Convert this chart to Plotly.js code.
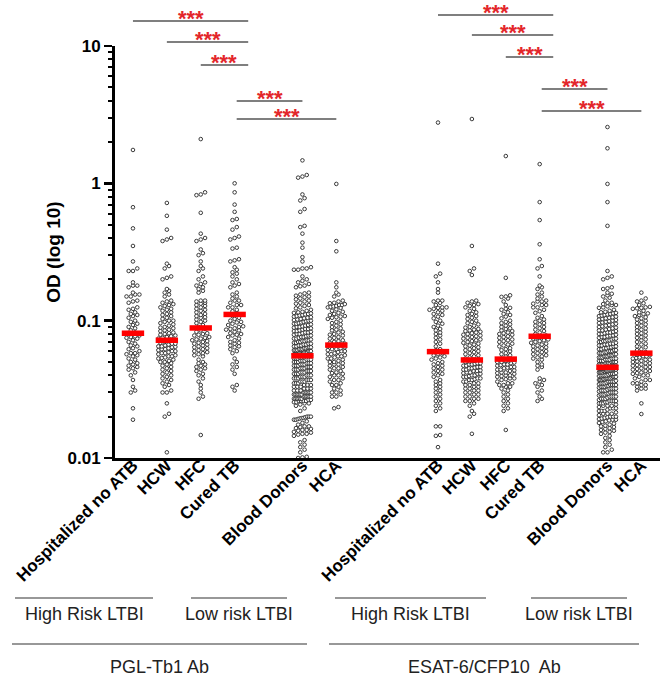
<!DOCTYPE html>
<html>
<head>
<meta charset="utf-8">
<script src="https://cdn.plot.ly/plotly-3.0.1.min.js"></script>
<style>
  body { margin: 0; background: #fff; }
  #chart { width: 667px; height: 679px; }
</style>
</head>
<body>
<div id="chart"></div>
<script>
var groups = ['Hospitalized no ATB', 'HCW', 'HFC', 'Cured TB', 'Blood Donors', 'HCA'];
var panels = ['PGL-Tb1 Ab', 'ESAT-6/CFP10  Ab'];
var subsets = ['High Risk LTBI', 'Low risk LTBI'];

// OD values (PGL-Tb1 Ab)
var pglHosp = [1.75, 0.67, 0.47, 0.35, 0.27, 0.24, 0.23, 0.23, 0.19, 0.18, 0.18, 0.175, 0.16, 0.155, 0.155, 0.15, 0.15, 0.14, 0.138, 0.135,
  0.125, 0.122, 0.12, 0.115, 0.112, 0.11, 0.108, 0.105, 0.1, 0.098, 0.095, 0.093, 0.09, 0.088, 0.085, 0.082, 0.08, 0.078, 0.077, 0.076,
  0.075, 0.074, 0.072, 0.07, 0.068, 0.066, 0.065, 0.063, 0.062, 0.06, 0.058, 0.058, 0.057, 0.056, 0.055, 0.053, 0.052, 0.05, 0.049, 0.048,
  0.047, 0.046, 0.045, 0.044, 0.042, 0.04, 0.037, 0.033, 0.031, 0.030, 0.023, 0.019];
var pglHcw = [0.72, 0.58, 0.46, 0.40, 0.39, 0.38, 0.26, 0.25, 0.24, 0.21, 0.205, 0.20, 0.17, 0.165, 0.16, 0.155, 0.15, 0.13, 0.125, 0.122,
  0.14, 0.138, 0.135, 0.132, 0.128, 0.12, 0.118, 0.115, 0.112, 0.11, 0.108, 0.105, 0.103, 0.1, 0.1,
  0.098, 0.096, 0.094, 0.092, 0.09, 0.089, 0.088, 0.086, 0.085, 0.084, 0.082, 0.081, 0.08, 0.079, 0.078, 0.077, 0.076, 0.075, 0.074, 0.073,
  0.071, 0.07, 0.069, 0.068, 0.068, 0.067, 0.066, 0.065, 0.065, 0.0645, 0.064, 0.063, 0.062, 0.062, 0.061, 0.06, 0.06, 0.059, 0.058, 0.058,
  0.057, 0.056, 0.055, 0.055, 0.054, 0.0535, 0.053, 0.052, 0.051, 0.05, 0.05, 0.049, 0.048, 0.047, 0.046, 0.045, 0.044, 0.043, 0.042, 0.041,
  0.04, 0.039, 0.038, 0.037, 0.036, 0.035, 0.034, 0.033, 0.031, 0.03, 0.03, 0.025, 0.021, 0.02, 0.011];
var pglHfc = [2.1, 0.86, 0.83, 0.82, 0.61, 0.43, 0.40, 0.39, 0.38, 0.33, 0.31, 0.30, 0.27, 0.25, 0.24, 0.23, 0.21, 0.20, 0.19, 0.185,
  0.18, 0.175, 0.17, 0.165, 0.16, 0.14, 0.138, 0.133, 0.13, 0.125, 0.14, 0.135, 0.128, 0.122, 0.12, 0.118, 0.115, 0.112, 0.11, 0.108,
  0.106, 0.105, 0.102, 0.1, 0.098, 0.096, 0.093, 0.09,
  0.087, 0.085, 0.083, 0.081, 0.08, 0.079, 0.078, 0.076, 0.075, 0.074, 0.073, 0.072, 0.071, 0.07, 0.069, 0.068, 0.067, 0.066, 0.065, 0.064,
  0.063, 0.062, 0.061, 0.06, 0.059, 0.058, 0.057, 0.056, 0.055, 0.052, 0.05, 0.049, 0.048, 0.047, 0.046, 0.045, 0.044, 0.043, 0.041, 0.04,
  0.038, 0.036, 0.034, 0.032, 0.03, 0.028, 0.027, 0.0147];
var pglCured = [1.0, 0.86, 0.70, 0.62, 0.55, 0.54, 0.48, 0.46, 0.41, 0.40, 0.39, 0.34, 0.335, 0.28, 0.275, 0.27, 0.245, 0.235, 0.225, 0.22,
  0.21, 0.2, 0.19, 0.185, 0.18, 0.175, 0.16, 0.155, 0.15, 0.145, 0.14, 0.135, 0.13, 0.125, 0.14, 0.13, 0.125, 0.12, 0.117, 0.114,
  0.108, 0.105, 0.103, 0.1, 0.098, 0.097, 0.095, 0.093, 0.091, 0.09, 0.088, 0.087, 0.086, 0.085, 0.083, 0.081, 0.08, 0.079, 0.078, 0.076,
  0.074, 0.072, 0.07, 0.069, 0.068, 0.066, 0.065, 0.064, 0.062, 0.06, 0.058, 0.053, 0.05, 0.048, 0.046, 0.044, 0.041, 0.034, 0.033, 0.031];
var pglDonors = [1.47, 1.15, 1.12, 1.1, 0.83, 0.78, 0.75, 0.65, 0.62, 0.49, 0.48, 0.43, 0.37, 0.34, 0.29, 0.27, 0.245, 0.24, 0.24, 0.235,
  0.235, 0.21, 0.2, 0.195, 0.19, 0.185, 0.18, 0.178, 0.175, 0.16, 0.158, 0.155, 0.152, 0.15, 0.148, 0.145, 0.143, 0.14, 0.138, 0.135,
  0.133, 0.13, 0.128, 0.125, 0.123, 0.12,
  0.118, 0.116, 0.115, 0.114, 0.113, 0.112, 0.111, 0.11, 0.109, 0.108, 0.107, 0.106, 0.105, 0.104, 0.103, 0.102, 0.101, 0.1, 0.1, 0.099,
  0.098, 0.097, 0.096, 0.095, 0.095, 0.094, 0.093, 0.092, 0.091, 0.09, 0.09, 0.089, 0.088, 0.087, 0.087, 0.086, 0.085, 0.084, 0.084, 0.083,
  0.082, 0.082, 0.081, 0.08, 0.08, 0.079, 0.078, 0.078, 0.077, 0.076, 0.076, 0.075, 0.074, 0.074, 0.073, 0.072, 0.072, 0.071, 0.071, 0.07,
  0.07, 0.069, 0.069, 0.068, 0.068, 0.067, 0.067, 0.066, 0.066, 0.065, 0.065, 0.064, 0.064, 0.064, 0.063, 0.063, 0.062, 0.062, 0.062, 0.061,
  0.061, 0.061, 0.06, 0.06, 0.06, 0.059, 0.059, 0.059, 0.058, 0.058, 0.058, 0.058, 0.057, 0.057, 0.057, 0.057, 0.056, 0.056, 0.056, 0.056,
  0.055, 0.054, 0.054, 0.053, 0.053, 0.053, 0.052, 0.052, 0.052, 0.051, 0.051, 0.051, 0.05, 0.05, 0.05, 0.049, 0.049, 0.049, 0.048, 0.048,
  0.048, 0.047, 0.047, 0.047, 0.046, 0.046, 0.046, 0.045, 0.045, 0.045, 0.044, 0.044, 0.044, 0.043, 0.043, 0.043, 0.042, 0.042, 0.042, 0.041,
  0.041, 0.041, 0.04, 0.04, 0.04, 0.039, 0.039, 0.039, 0.038, 0.038, 0.038, 0.037, 0.037, 0.037, 0.036, 0.036, 0.036, 0.035, 0.035, 0.035,
  0.034, 0.034, 0.034, 0.033, 0.033, 0.033, 0.032, 0.032, 0.032, 0.031, 0.031, 0.031, 0.03, 0.03, 0.03, 0.03, 0.029, 0.029, 0.029, 0.029,
  0.028, 0.028, 0.028, 0.028, 0.027, 0.027, 0.027, 0.027, 0.026, 0.026, 0.026, 0.026, 0.0255, 0.0255, 0.025, 0.025, 0.0245, 0.024, 0.023, 0.022,
  0.03, 0.03, 0.029, 0.029, 0.028, 0.028, 0.027, 0.027, 0.0265, 0.0265,
  0.02, 0.02, 0.02, 0.0198, 0.0196, 0.0195, 0.0194, 0.0192, 0.019, 0.019, 0.0185, 0.018, 0.0175, 0.017, 0.017, 0.0168, 0.0165, 0.0163, 0.016, 0.016,
  0.0158, 0.0155, 0.0153, 0.015, 0.015, 0.0148, 0.0145, 0.0135, 0.013, 0.0125, 0.012, 0.0115, 0.011, 0.0102, 0.0101, 0.01];
var pglHca = [0.99, 0.38, 0.32, 0.19, 0.175, 0.16, 0.155, 0.15, 0.135, 0.132, 0.13, 0.128, 0.126, 0.125,
  0.14, 0.138, 0.134, 0.13, 0.127, 0.124, 0.121, 0.118, 0.116, 0.114, 0.112, 0.11, 0.108, 0.107, 0.106,
  0.105, 0.103, 0.1, 0.098, 0.096, 0.094, 0.092, 0.09, 0.088, 0.086, 0.085, 0.083, 0.082, 0.08, 0.079, 0.078, 0.076, 0.075, 0.074, 0.072,
  0.071, 0.07, 0.069, 0.068, 0.067, 0.0668,
  0.066, 0.065, 0.064, 0.063, 0.062, 0.062, 0.061, 0.06, 0.06, 0.059, 0.058, 0.057, 0.057, 0.056, 0.055, 0.055, 0.054, 0.053, 0.053, 0.052,
  0.051, 0.05, 0.05, 0.049, 0.048, 0.048, 0.047, 0.046, 0.045, 0.045, 0.044, 0.043, 0.042, 0.041, 0.04, 0.04, 0.039, 0.038, 0.037, 0.037,
  0.036, 0.035, 0.034, 0.034, 0.033, 0.032, 0.031, 0.03, 0.03, 0.029, 0.028, 0.028, 0.0235, 0.023, 0.0415];

// OD values (ESAT-6/CFP10 Ab)
var esatHosp = [2.77, 0.26, 0.22, 0.21, 0.19, 0.17, 0.16, 0.14, 0.14, 0.138, 0.125, 0.124, 0.122, 0.12,
  0.135, 0.13, 0.125, 0.118, 0.115, 0.112, 0.11, 0.107, 0.104, 0.1,
  0.098, 0.095, 0.092, 0.09, 0.087, 0.085, 0.082, 0.08, 0.078, 0.075, 0.073, 0.07, 0.068, 0.065, 0.062, 0.061,
  0.058, 0.057, 0.056, 0.055, 0.054, 0.053, 0.052, 0.05, 0.049, 0.048, 0.047, 0.046, 0.045, 0.044, 0.043, 0.042, 0.041, 0.04, 0.039,
  0.037, 0.036, 0.035, 0.034, 0.033, 0.032, 0.031, 0.03, 0.029, 0.028, 0.027, 0.026, 0.025, 0.024, 0.023, 0.022,
  0.017, 0.017, 0.0147, 0.0145, 0.012];
var esatHcw = [2.94, 0.35, 0.24, 0.23, 0.215, 0.14, 0.135, 0.13, 0.125, 0.138, 0.132, 0.128, 0.122, 0.118, 0.115,
  0.112, 0.11, 0.108, 0.105, 0.103, 0.1, 0.098, 0.096, 0.094, 0.092, 0.09, 0.089, 0.087, 0.086, 0.085, 0.084, 0.083, 0.082, 0.081, 0.08,
  0.079, 0.078, 0.077, 0.076, 0.075, 0.074, 0.073, 0.072, 0.071, 0.07, 0.069, 0.068, 0.067, 0.066, 0.065, 0.064, 0.063, 0.062, 0.061, 0.06,
  0.059, 0.058, 0.057, 0.056, 0.055, 0.054, 0.053, 0.0525,
  0.051, 0.0505, 0.05, 0.049, 0.049, 0.0485, 0.048, 0.048, 0.047, 0.047, 0.046, 0.046, 0.0455, 0.045, 0.045, 0.044, 0.044, 0.0435, 0.043, 0.043,
  0.042, 0.042, 0.0415, 0.041, 0.041, 0.04, 0.04, 0.0395, 0.039, 0.039, 0.038, 0.038, 0.0375, 0.037, 0.037, 0.036, 0.036, 0.035, 0.035, 0.034,
  0.034, 0.033, 0.033, 0.032, 0.032, 0.031, 0.031, 0.03, 0.03, 0.029, 0.029, 0.028, 0.028, 0.027, 0.027, 0.026, 0.026, 0.025, 0.024, 0.022,
  0.021, 0.02, 0.015];
var esatHfc = [1.58, 0.205, 0.153, 0.15, 0.149, 0.145, 0.124, 0.122, 0.138, 0.13, 0.12, 0.115,
  0.112, 0.11, 0.107, 0.104, 0.1, 0.098, 0.096, 0.094, 0.092, 0.09, 0.088, 0.087,
  0.085, 0.084, 0.082, 0.081, 0.08, 0.079, 0.077, 0.076, 0.075, 0.073, 0.072, 0.071, 0.07, 0.068, 0.067, 0.066, 0.065, 0.063, 0.062, 0.061,
  0.06, 0.058, 0.057, 0.056, 0.055, 0.053,
  0.052, 0.051, 0.05, 0.05, 0.049, 0.048, 0.048, 0.047, 0.046, 0.046, 0.045, 0.044, 0.044, 0.043, 0.042, 0.042, 0.041, 0.04, 0.04, 0.039,
  0.038, 0.038, 0.037, 0.036, 0.035, 0.034, 0.034, 0.033, 0.032, 0.031, 0.03, 0.029, 0.028, 0.027, 0.026, 0.025, 0.024, 0.023, 0.022, 0.016,
  0.0515, 0.0495, 0.0475, 0.0455, 0.0435, 0.0415, 0.0395, 0.0375, 0.035, 0.033];
var esatCured = [1.38, 0.73, 0.54, 0.36, 0.28, 0.25, 0.24, 0.21, 0.18, 0.175, 0.17, 0.16, 0.155, 0.15, 0.145, 0.14, 0.138, 0.133, 0.13, 0.125,
  0.138, 0.13, 0.125, 0.12, 0.117, 0.114,
  0.108, 0.105, 0.102, 0.1, 0.098, 0.096, 0.094, 0.092, 0.09, 0.088, 0.086, 0.084, 0.082, 0.08, 0.078,
  0.076, 0.075, 0.074, 0.073, 0.072, 0.071, 0.07, 0.069, 0.068, 0.067, 0.066, 0.065, 0.064, 0.063, 0.062, 0.061, 0.06, 0.059, 0.058, 0.057,
  0.056, 0.055, 0.054, 0.053, 0.052, 0.05, 0.048, 0.047, 0.046, 0.044,
  0.038, 0.037, 0.036, 0.035, 0.034, 0.033, 0.031, 0.03, 0.028, 0.027, 0.026];
var esatDonors = [2.57, 1.8, 0.99, 0.73, 0.49, 0.23, 0.21, 0.205, 0.2, 0.175, 0.172, 0.17, 0.16, 0.157, 0.153, 0.15, 0.147, 0.135, 0.132, 0.13,
  0.127, 0.124, 0.14, 0.135, 0.13, 0.125, 0.12, 0.118, 0.116, 0.115, 0.114, 0.113,
  0.112, 0.111, 0.11, 0.109, 0.108, 0.107, 0.106, 0.105, 0.104, 0.103, 0.102, 0.101, 0.1, 0.099, 0.098, 0.097, 0.096, 0.095, 0.094, 0.093,
  0.092, 0.091, 0.09, 0.089, 0.088, 0.087, 0.086, 0.085, 0.085, 0.084, 0.083, 0.082, 0.082, 0.081, 0.08, 0.08, 0.079, 0.078, 0.078, 0.077,
  0.076, 0.076, 0.075, 0.074, 0.074, 0.073, 0.072, 0.072, 0.071, 0.071, 0.07, 0.07, 0.069, 0.068, 0.068, 0.067, 0.067, 0.066, 0.066, 0.065,
  0.065, 0.064, 0.064, 0.063, 0.063, 0.062, 0.062, 0.061, 0.061, 0.06, 0.06, 0.06, 0.059, 0.059, 0.058, 0.058, 0.058, 0.057, 0.057, 0.056,
  0.056, 0.056, 0.055, 0.055, 0.055, 0.054, 0.054, 0.054, 0.053, 0.053, 0.053, 0.052, 0.052, 0.052, 0.051, 0.051, 0.051, 0.05, 0.05, 0.05,
  0.05, 0.049, 0.049, 0.049, 0.049, 0.048, 0.048, 0.048, 0.048, 0.047, 0.047, 0.047, 0.047, 0.0465, 0.0465, 0.0465, 0.046, 0.046, 0.046, 0.046,
  0.0455, 0.045, 0.045, 0.045, 0.0445, 0.0445, 0.044, 0.044, 0.044, 0.0435, 0.0435, 0.043, 0.043, 0.043, 0.0425, 0.042, 0.042, 0.042, 0.0415, 0.041,
  0.041, 0.041, 0.0405, 0.04, 0.04, 0.04, 0.0395, 0.039, 0.039, 0.039, 0.0385, 0.038, 0.038, 0.038, 0.0375, 0.037, 0.037, 0.037, 0.0365, 0.036,
  0.036, 0.036, 0.0355, 0.035, 0.035, 0.035, 0.0345, 0.034, 0.034, 0.034, 0.0335, 0.033, 0.033, 0.033, 0.0325, 0.032, 0.032, 0.032, 0.0315, 0.031,
  0.031, 0.031, 0.0305, 0.03, 0.03, 0.03, 0.0295, 0.029, 0.029, 0.029, 0.0285, 0.028, 0.028, 0.028, 0.0275, 0.027, 0.027, 0.027, 0.0265, 0.026,
  0.026, 0.026, 0.0255, 0.025, 0.025, 0.025, 0.0245, 0.024, 0.024, 0.024, 0.0235, 0.023, 0.023, 0.023, 0.0225, 0.022, 0.022, 0.022, 0.0215, 0.021,
  0.021, 0.021, 0.0205, 0.02, 0.02, 0.02, 0.0198, 0.0196, 0.0194, 0.0192, 0.019, 0.019, 0.0188, 0.0185, 0.0183,
  0.044, 0.042, 0.04, 0.038, 0.036, 0.034, 0.032, 0.03, 0.028, 0.026, 0.0425, 0.0375, 0.0335, 0.0295, 0.0255,
  0.018, 0.0178, 0.0175, 0.0172, 0.017, 0.0168, 0.0165, 0.0163, 0.016, 0.0158, 0.0155, 0.0153, 0.015, 0.0145, 0.014, 0.0135, 0.013, 0.0125,
  0.012, 0.0115, 0.011, 0.011];
var esatHca = [0.16, 0.145, 0.14, 0.125, 0.124, 0.123, 0.138, 0.134, 0.13, 0.126, 0.122, 0.118, 0.115, 0.113,
  0.112, 0.11, 0.108, 0.106, 0.104, 0.102, 0.1, 0.098, 0.096, 0.094, 0.092, 0.09, 0.088, 0.086, 0.085, 0.083, 0.081, 0.08, 0.078, 0.076,
  0.075, 0.073, 0.072, 0.07, 0.068, 0.067, 0.065, 0.064, 0.062, 0.061, 0.059,
  0.057, 0.056, 0.055, 0.055, 0.054, 0.053, 0.052, 0.052, 0.051, 0.05, 0.049, 0.049, 0.048, 0.047, 0.046, 0.046, 0.045, 0.044, 0.043, 0.043,
  0.042, 0.041, 0.04, 0.04, 0.039, 0.038, 0.037, 0.037, 0.036, 0.035, 0.034, 0.034, 0.033, 0.032, 0.032, 0.035, 0.031, 0.025, 0.0209,
  0.0565, 0.0535, 0.0505, 0.0475, 0.0445, 0.0415];

var pgl = [pglHosp, pglHcw, pglHfc, pglCured, pglDonors, pglHca];
var esat = [esatHosp, esatHcw, esatHfc, esatCured, esatDonors, esatHca];
var series = [pgl, esat];

// layout geometry
var W = 667, H = 679;
var M = {l: 115, r: 7, t: 46, b: 221};
var xRange = [-0.53, 15.55];
var slot = [0, 1, 2, 3, 5, 6];
var panelStart = [0, 9];
var pxX = (W - M.l - M.r) / (xRange[1] - xRange[0]);
var pxDec = (H - M.t - M.b) / 3;

function pos(p, g) { return panelStart[p] + slot[g]; }
function px2x(px) { return (px - M.l) / (W - M.l - M.r); }
function py2y(py) { return (H - M.b - py) / (H - M.t - M.b); }

function median(vals) {
  var v = vals.slice().sort((a, b) => a - b), n = v.length;
  return n % 2 ? v[(n - 1) / 2] : (v[n / 2 - 1] + v[n / 2]) / 2;
}

// scatter-dot layout: points binned into rows, spread sideways
function swarm(vals, x0) {
  var v = vals.slice().sort((a, b) => a - b);
  var xs = [], ys = [], row = [], start = null;
  function flush() {
    var n = row.length, step = Math.min(4.3, 17 / Math.max(n - 1, 1));
    row.forEach((val, k) => {
      xs.push(x0 + (k - (n - 1) / 2) * step / pxX);
      ys.push(val);
    });
    row = [];
  }
  v.forEach(val => {
    var p = Math.log10(val) * pxDec;
    if (start === null || p - start > 3.4) { if (row.length) flush(); start = p; }
    row.push(val);
  });
  flush();
  return {x: xs, y: ys};
}

var traces = [];
var medX = [], medY = [];
series.forEach((panel, p) => {
  var xs = [], ys = [];
  panel.forEach((vals, g) => {
    var s = swarm(vals, pos(p, g));
    xs = xs.concat(s.x); ys = ys.concat(s.y);
    var m = median(vals);
    medX.push(pos(p, g) - 0.33, pos(p, g) + 0.33, null);
    medY.push(m, m, null);
  });
  traces.push({
    x: xs, y: ys, type: 'scatter', mode: 'markers', hoverinfo: 'skip',
    marker: {symbol: 'circle', size: 3.6, color: '#fff', line: {color: '#3a3a3a', width: 1}}
  });
});
traces.push({
  x: medX, y: medY, type: 'scatter', mode: 'lines', hoverinfo: 'skip',
  line: {color: '#ff0000', width: 5.5}
});

var tickvals = [], ticktext = [];
[0, 1].forEach(p => groups.forEach((g, i) => { tickvals.push(pos(p, i)); ticktext.push(g); }));

var minorVals = [];
[0.01, 0.1, 1].forEach(d => { for (var k = 2; k <= 9; k++) minorVals.push(d * k); });

// significance brackets: [from, to] groups, line heights in px
var brackets = [[0, 3], [1, 3], [2, 3], [3, 4], [3, 5]];
var bracketPx = [[21, 42, 65, 101, 119], [15, 35, 57, 89, 111]];

var shapes = [], annotations = [];
[0, 1].forEach(p => {
  brackets.forEach((b, i) => {
    var x0 = pos(p, b[0]) + (b[0] === 3 ? 0.06 : 0);
    var x1 = pos(p, b[1]) + (b[1] === 3 ? 0.4 : 0);
    var y = py2y(bracketPx[p][i]);
    shapes.push({type: 'line', xref: 'x', yref: 'paper', x0: x0, x1: x1, y0: y, y1: y,
      line: {color: '#555', width: 1.5}});
    annotations.push({xref: 'x', yref: 'paper', x: (x0 + x1) / 2, y: y, xanchor: 'center', yanchor: 'bottom', yshift: -12,
      text: '***', showarrow: false,
      font: {family: 'Liberation Sans, Arial, sans-serif', size: 22, weight: 'bold', color: '#e3262b'}});
  });
});

// grouping labels under the axis (pixel spans)
var subsetLines = [[15, 153], [191, 287], [335, 486], [531, 627]];
var panelLines = [[12, 307], [329, 639]];
var lblFont = {family: 'Liberation Sans, Arial, sans-serif', size: 18, color: '#222'};
subsetLines.forEach((s, i) => {
  shapes.push({type: 'line', xref: 'paper', yref: 'paper', x0: px2x(s[0]), x1: px2x(s[1]),
    y0: py2y(598), y1: py2y(598), line: {color: '#333', width: 1.2}});
  annotations.push({xref: 'paper', yref: 'paper', x: px2x((s[0] + s[1]) / 2), y: py2y(614),
    xanchor: 'center', yanchor: 'middle', text: subsets[i % 2], showarrow: false, font: lblFont});
});
panelLines.forEach((s, i) => {
  shapes.push({type: 'line', xref: 'paper', yref: 'paper', x0: px2x(s[0]), x1: px2x(s[1]),
    y0: py2y(644), y1: py2y(644), line: {color: '#333', width: 1.2}});
  annotations.push({xref: 'paper', yref: 'paper', x: px2x((s[0] + s[1]) / 2), y: py2y(667),
    xanchor: 'center', yanchor: 'middle', text: panels[i], showarrow: false, font: lblFont});
});

var boldFont = {family: 'Liberation Sans, Arial, sans-serif', weight: 'bold', color: '#000'};

var layout = {
  width: W, height: H,
  margin: M,
  showlegend: false,
  paper_bgcolor: '#fff', plot_bgcolor: '#fff',
  xaxis: {
    range: xRange, tickmode: 'array', tickvals: tickvals, ticktext: ticktext,
    tickangle: -45, ticks: '', showgrid: false, zeroline: false,
    showline: true, linewidth: 3, linecolor: '#000', ticklabelstandoff: -12,
    tickfont: Object.assign({size: 17}, boldFont)
  },
  yaxis: {
    type: 'log', range: [-2, 1],
    tickmode: 'array', tickvals: [0.01, 0.1, 1, 10], ticktext: ['0.01', '0.1', '1', '10'],
    ticks: 'outside', ticklen: 8, tickwidth: 2.5, tickcolor: '#000',
    showgrid: false, zeroline: false, showline: true, linewidth: 3, linecolor: '#000',
    tickfont: Object.assign({size: 17}, boldFont),
    minor: {tickmode: 'array', tickvals: minorVals, ticks: 'outside', ticklen: 4, tickwidth: 2, tickcolor: '#000', showgrid: false},
    title: {text: 'OD (log 10)', font: Object.assign({size: 19}, boldFont), standoff: 2}
  },
  shapes: shapes,
  annotations: annotations
};

Plotly.newPlot('chart', traces, layout, {displayModeBar: false, staticPlot: true});
</script>
</body>
</html>
